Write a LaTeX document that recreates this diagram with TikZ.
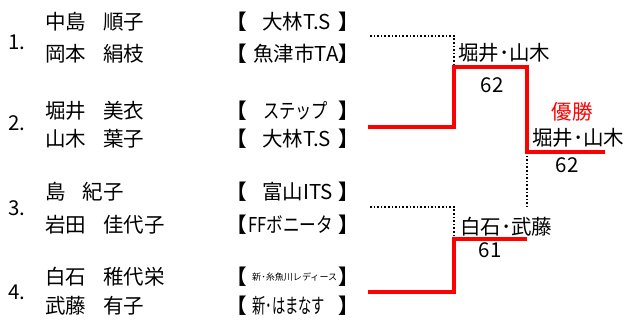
\documentclass[tikz,border=0pt]{standalone}
\usepackage{fontspec}
\setmainfont{Noto Sans CJK JP}
\newcommand{\afw}[2]{\resizebox{#1}{\height}{#2}}
\begin{document}
\begin{tikzpicture}[x=1pt,y=-1pt,
  txt/.style={inner sep=0pt, font=\fontsize{20.5}{24}\selectfont},
  nm/.style={txt, anchor=west},
  pairno/.style={txt, anchor=west},
  lbr/.style={txt, anchor=east, font=\fontsize{20.5}{24}\selectfont\bfseries},
  rbr/.style={txt, anchor=west, font=\fontsize{20.5}{24}\selectfont\bfseries},
  club/.style={txt, anchor=west},
  score/.style={txt},
  redl/.style={draw=red, line width=4pt},
  dotl/.style={draw=black, line width=1.6pt, dash pattern=on 1.6pt off 2pt}]
\useasboundingbox (0,0) rectangle (625,320);
% pair numbers
\node[pairno] (n1) at (8,42) {1.};
\node[pairno] (n2) at (8,123) {2.};
\node[pairno] (n3) at (8,208) {3.};
\node[pairno] (n4) at (8,292) {4.};
% names
\node[nm] (a1) at (45,22) {中島\hspace{17pt}順子};
\node[nm] (a2) at (45,54) {岡本\hspace{17pt}絹枝};
\node[nm] (b1) at (45,111) {堀井\hspace{17pt}美衣};
\node[nm] (b2) at (45,139) {山木\hspace{17pt}葉子};
\node[nm] (c1) at (45,192) {島\hspace{17pt}紀子};
\node[nm] (c2) at (45,225) {岩田\hspace{17pt}佳代子};
\node[nm] (d1) at (45,277) {白石\hspace{17pt}稚代栄};
\node[nm] (d2) at (45,306) {武藤\hspace{17pt}有子};
% brackets
\foreach \i/\y in {1/22,2/54,3/111,4/139,5/192,6/225,7/277,8/306}{
  \node[lbr] (lb\i) at (247,\y) {【};
  \node[rbr] (rb\i) at (338,\y) {】};
}
% clubs
\node[club] (k1) at (262,22) {大林T.S};
\node[club] (k2) at (253,54) {魚津市TA};
\node[club] (k3) at (263,111) {\afw{65pt}{ステップ}};
\node[club] (k4) at (262,139) {大林T.S};
\node[club] (k5) at (262,192) {富山ITS};
\node[club] (k6) at (248,225) {\afw{85pt}{FFボニータ}};
\node[club, font=\fontsize{9}{10}\selectfont] (k7) at (252,277) {\afw{85pt}{新･糸魚川レディース}};
\node[club] (k8) at (252,306) {\afw{73pt}{新･はまなす}};
% bracket coordinates
\coordinate (p1) at (370,36);
\coordinate (p2) at (368,127);
\coordinate (p3) at (370,207);
\coordinate (p4) at (368,292);
\coordinate (s1) at (454,67);
\coordinate (s1r) at (527,67);
\coordinate (s2) at (454,239);
\coordinate (s2r) at (527,239);
\coordinate (f) at (527,152);
\coordinate (fr) at (605,152);
\coordinate (fd) at (527,207);
% dotted (losers)
\draw[dotl] (p1) -| (s1);
\draw[dotl] (p3) -| ([yshift=-2pt]s2);
\draw[dotl] (f) -- (fd);
% red (winners)
\draw[redl] (p2) -| (s1) -- (s1r) |- (fr);
\draw[redl] (p4) -| (s2) -- (s2r);
% results
\node[nm] (w1) at (458,53) {堀井･山木};
\node[score] (sc1) at (492,85) {62};
\node[nm] (w2) at (460,227) {白石･武藤};
\node[score] (sc2) at (490,250) {61};
\node[txt, text=red] (champ) at (572,112) {優勝};
\node[nm] (w3) at (532,138) {堀井･山木};
\node[score] (sc3) at (567,165) {62};
\end{tikzpicture}
\end{document}
